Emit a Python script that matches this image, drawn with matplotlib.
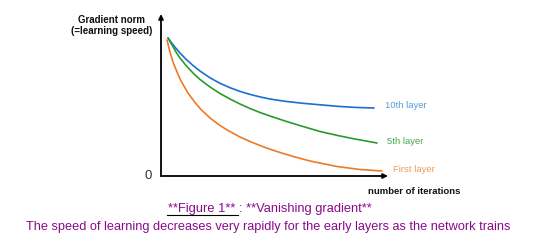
import matplotlib
matplotlib.use("Agg")
import matplotlib.pyplot as plt
from matplotlib.lines import Line2D

plt.rcParams['font.family'] = ['Liberation Sans', 'DejaVu Sans']

# data (iterations, gradient norm) in arbitrary units
iters_10th = [7, 11, 15, 19, 25, 32, 39, 49, 59, 69, 79, 89, 99, 109, 124, 142, 159, 179, 194, 213]
norm_10th = [138, 132.6, 127.6, 123, 116.8, 110.5, 105, 98.2, 92.7, 88.3, 84.6, 81.6,
             79.1, 77, 74.7, 72.7, 71.2, 69.5, 68.6, 68]
iters_5th = [7, 11, 15, 19, 25, 32, 39, 49, 59, 69, 79, 89, 99, 109, 124, 142, 159, 179, 194, 216]
norm_5th = [138, 131, 124, 118, 110.5, 103, 96.5, 89, 82.5, 77, 72, 67.5, 63.5, 60,
            55, 49.5, 44.5, 40, 37, 33]
iters_1st = [6, 9, 12, 16, 20, 27, 34, 40, 49, 59, 67, 79, 89, 99, 109, 119, 134, 149, 176, 199, 221]
norm_1st = [136, 124, 114, 104, 95, 83, 73.5, 66.5, 58, 50.5, 45.5, 39, 34.5, 30.5, 26.8,
            23.5, 19, 15, 9.5, 6.5, 5]

series_names = ["10th layer", "5th layer", "First layer"]
line_colors = ["#1a6fd4", "#2a9a2a", "#ec7a26"]
label_colors = ["#5a9ad8", "#4aaa4a", "#f09a5a"]

W, H = 540, 246
fig = plt.figure(figsize=(W / 100, H / 100), dpi=100)

def P(x, y):
    return (x / W, 1 - y / H)

ax = fig.add_axes([161 / W, (H - 176) / H, 227 / W, 162 / H])
ax.set_xlim(0, 227)
ax.set_ylim(0, 162)
ax.axis('off')

for xs, ys, c in zip([iters_10th, iters_5th, iters_1st],
                     [norm_10th, norm_5th, norm_1st], line_colors):
    ax.plot(xs, ys, color=c, lw=1.2, solid_capstyle='round', solid_joinstyle='round')

# axes arrows
ax.annotate('', xy=(227, 0), xytext=(0, 0), xycoords='data',
            arrowprops=dict(arrowstyle='-|>', lw=1.3, color='black',
                            mutation_scale=7, shrinkA=0, shrinkB=0),
            annotation_clip=False)
ax.annotate('', xy=(0, 162), xytext=(0, 0), xycoords='data',
            arrowprops=dict(arrowstyle='-|>', lw=1.3, color='black',
                            mutation_scale=7, shrinkA=0, shrinkB=0),
            annotation_clip=False)

# series labels
label_pos = [(385, 106), (387, 141), (393, 169)]
for name, (x, y), c in zip(series_names, label_pos, label_colors):
    fig.text(*P(x, y), name, color=c, fontsize=6.8, ha='left', va='center')

# axis titles
fig.text(*P(112, 20), "Gradient norm", fontsize=7, fontweight='bold',
         ha='center', va='center', color='#111111')
fig.text(*P(112, 31), "(=learning speed)", fontsize=7, fontweight='bold',
         ha='center', va='center', color='#111111')
fig.text(*P(414, 191), "number of iterations", fontsize=6.8, fontweight='bold',
         ha='center', va='center', color='#111111')
fig.text(*P(148, 176), "0", fontsize=9.5, ha='center', va='center', color='#333333')

# caption
purple = '#8a0a8a'
fig.text(*P(270, 209), "**Figure 1** : **Vanishing gradient**", fontsize=9.3,
         color=purple, ha='center', va='center')
fig.add_artist(Line2D([167 / W, 238 / W], [1 - 215 / H, 1 - 215 / H],
                      color='black', lw=0.8, transform=fig.transFigure))
fig.text(*P(268, 227),
         "The speed of learning decreases very rapidly for the early layers as the network trains",
         fontsize=9.2, color=purple, ha='center', va='center')

fig.savefig("out.png", dpi=100)
